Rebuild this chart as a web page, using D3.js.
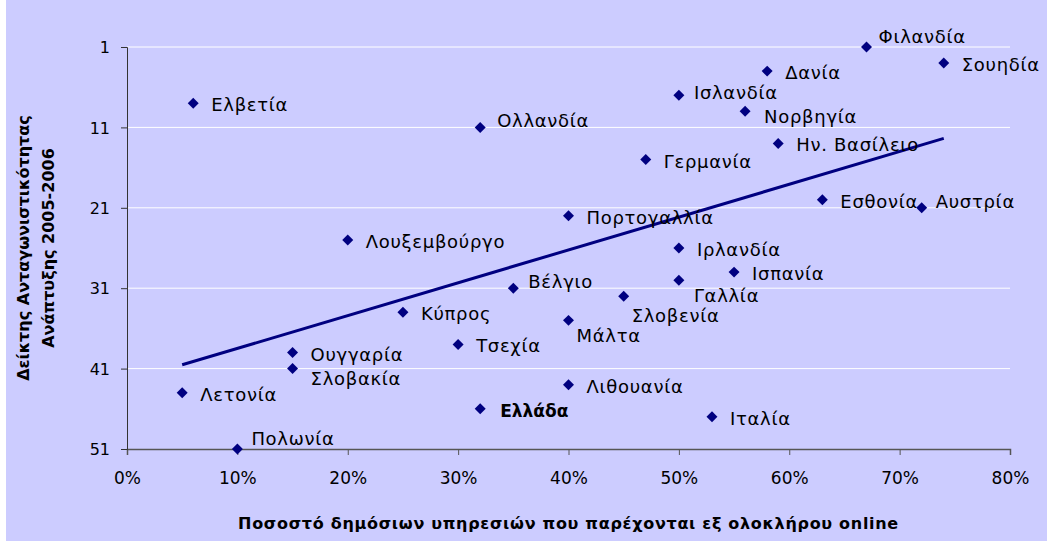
<!DOCTYPE html>
<html>
<head>
<meta charset="utf-8">
<script src="https://cdn.jsdelivr.net/npm/d3@7"></script>
<style>
  body { margin: 0; background: #fff; }
  svg { display: block; font-family: "DejaVu Sans", Verdana, sans-serif; }
  .lbl { font-size: 18px; letter-spacing: 0.7px; fill: #000; }
  .xa .tick text { font-size: 17px; fill: #000; }
  .ya .tick text { font-size: 16px; fill: #000; }
  .ttl { font-size: 16px; font-weight: bold; fill: #000; }
</style>
</head>
<body>
<svg width="1047" height="544"></svg>
<script>
// data
var countries = ["Φιλανδία", "Σουηδία", "Δανία", "Ισλανδία", "Νορβηγία", "Ολλανδία", "Ελβετία",
  "Ην. Βασίλειο", "Γερμανία", "Εσθονία", "Αυστρία", "Πορτογαλλία", "Λουξεμβούργο", "Ιρλανδία",
  "Ισπανία", "Γαλλία", "Βέλγιο", "Σλοβενία", "Μάλτα", "Κύπρος", "Τσεχία", "Ουγγαρία",
  "Σλοβακία", "Λετονία", "Ελλάδα", "Λιθουανία", "Ιταλία", "Πολωνία"];
var onlinePct = [67, 74, 58, 50, 56, 32, 6, 59, 47, 63, 72, 40, 20, 50, 55, 50, 35, 45, 40, 25, 30, 15, 15, 5, 32, 40, 53, 10];
var rank = [1, 3, 4, 7, 9, 11, 8, 13, 15, 20, 21, 22, 25, 26, 29, 30, 31, 32, 35, 34, 38, 39, 41, 44, 46, 43, 47, 51];
var xTicks = [0, 10, 20, 30, 40, 50, 60, 70, 80];
var yTicks = [1, 11, 21, 31, 41, 51];
var highlight = "Ελλάδα";

// label placement (px from marker centre), default right of the marker
var labelNudge = {
  "Φιλανδία": [12, -4], "Ισλανδία": [15, 4], "Νορβηγία": [19, 12], "Ολλανδία": [17, 0],
  "Αυστρία": [14, 0], "Πολωνία": [14, -4], "Βέλγιο": [15, 0], "Γαλλία": [15, 22],
  "Σλοβενία": [8, 26], "Μάλτα": [8, 22], "Σλοβακία": [18, 16], "Ελλάδα": [20, 8]
};

var svg = d3.select("svg");
svg.append("rect").attr("x", 6).attr("y", 0).attr("width", 1041).attr("height", 541).attr("fill", "#ccccff");

var x = d3.scaleLinear().domain([0, 80]).range([127, 1010]);
var y = d3.scaleLinear().domain([1, 51]).range([47, 449]);

var data = countries.map(function (c, i) { return { name: c, x: onlinePct[i], y: rank[i] }; });

// gridlines
svg.append("g").selectAll("line").data(yTicks.slice(0, -1)).enter().append("line")
  .attr("x1", x(0)).attr("x2", x(80))
  .attr("y1", function (d) { return y(d); }).attr("y2", function (d) { return y(d); })
  .attr("stroke", "#fff").attr("stroke-width", 1);

var xaxis = svg.append("g").attr("class", "xa").attr("transform", "translate(0," + y(51) + ")")
  .call(d3.axisBottom(x).tickValues(xTicks).tickSize(6).tickPadding(17).tickFormat(function (d) { return d + "%"; }));
var yaxis = svg.append("g").attr("class", "ya").attr("transform", "translate(" + x(0) + ",0)")
  .call(d3.axisLeft(y).tickValues(yTicks).tickSize(6).tickPadding(11));
xaxis.select(".domain").attr("stroke", "#555").attr("stroke-width", 1.5);
yaxis.select(".domain").attr("stroke", "#333");
xaxis.selectAll("line").attr("stroke", "#555");
yaxis.selectAll("line").attr("stroke", "#333");
yaxis.selectAll("text").attr("dy", "0.36em");
xaxis.attr("font-family", null).attr("font-size", null);
yaxis.attr("font-family", null).attr("font-size", null);

// least squares trend line
var mx = d3.mean(data, function (d) { return d.x; });
var my = d3.mean(data, function (d) { return d.y; });
var sxy = d3.sum(data, function (d) { return (d.x - mx) * (d.y - my); });
var sxx = d3.sum(data, function (d) { return (d.x - mx) * (d.x - mx); });
var slope = sxy / sxx, icpt = my - slope * mx;
var ext = d3.extent(data, function (d) { return d.x; });
svg.append("line")
  .attr("x1", x(ext[0])).attr("y1", y(icpt + slope * ext[0]))
  .attr("x2", x(ext[1])).attr("y2", y(icpt + slope * ext[1]))
  .attr("stroke", "#000080").attr("stroke-width", 3);

var pts = svg.append("g").selectAll("g").data(data).enter().append("g")
  .attr("transform", function (d) { return "translate(" + x(d.x) + "," + y(d.y) + ")"; });
pts.append("path")
  .attr("d", d3.symbol().type(d3.symbolSquare).size(60))
  .attr("transform", "rotate(45)")
  .attr("fill", "#000080");
pts.append("text").attr("class", "lbl")
  .attr("x", function (d) { return (labelNudge[d.name] || [18, 8])[0]; })
  .attr("y", function (d) { return (labelNudge[d.name] || [18, 8])[1]; })
  .attr("font-weight", function (d) { return d.name == highlight ? "bold" : null; })
  .style("letter-spacing", function (d) { return d.name == highlight ? "0px" : null; })
  .style("font-size", function (d) { return d.name == highlight ? "17px" : null; })
  .text(function (d) { return d.name; });

// axis titles
svg.append("text").attr("class", "ttl").attr("text-anchor", "middle")
  .attr("x", (x(0) + x(80)) / 2).attr("y", 529)
  .style("letter-spacing", "0.7px")
  .text("Ποσοστό δημόσιων υπηρεσιών που παρέχονται εξ ολοκλήρου online");
var yt = svg.append("text").attr("class", "ttl").attr("text-anchor", "middle")
  .attr("transform", "translate(0," + (y(1) + y(51)) / 2 + ") rotate(-90)");
yt.append("tspan").attr("x", 0).attr("y", 29).text("Δείκτης Ανταγωνιστικότητας");
yt.append("tspan").attr("x", 0).attr("y", 54).text("Ανάπτυξης 2005-2006");
</script>
</body>
</html>
